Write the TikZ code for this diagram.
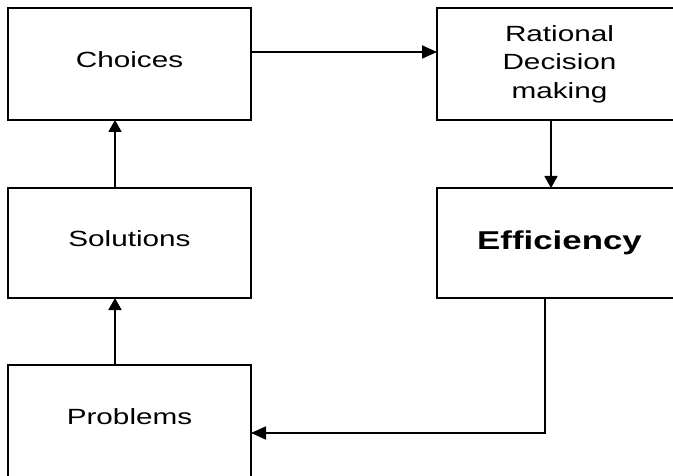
\documentclass[tikz,border=0pt]{standalone}
\usepackage{fontspec}
\newfontfamily\boxfont[FakeStretch=1.35]{Liberation Sans}
\usetikzlibrary{arrows.meta}
\begin{document}
\begin{tikzpicture}[x=1pt,y=-1pt,
  box/.style={draw=black, line width=1.5pt, rectangle, inner sep=0pt, outer sep=0pt,
    align=center, font=\boxfont\fontsize{22}{28.5}\selectfont},
  lowtext/.style={text height=16pt, text depth=9pt},
  conn/.style={draw=black, line width=1.8pt},
  harr/.style={conn, -{Triangle[length=15pt,width=13pt]}},
  varr/.style={conn, -{Triangle[length=12pt,width=13pt]}}]
\useasboundingbox (0,0) rectangle (673,476);
\clip (0,0) rectangle (673,476);
\fill[white] (0,0) rectangle (673,476);
\node[box, lowtext, minimum width=243pt, minimum height=112pt] (choices) at (129.5,64) {Choices};
\node[box, minimum width=245pt, minimum height=112pt] (rational) at (559.5,64) {Rational\\Decision\\making};
\node[box, lowtext, minimum width=243pt, minimum height=110pt] (solutions) at (129.5,243) {Solutions};
\node[box, minimum width=245pt, minimum height=110pt, font=\boxfont\fontsize{25.8}{28}\selectfont\bfseries] (efficiency) at (559.5,243) {Efficiency};
\node[box, lowtext, minimum width=243pt, minimum height=112pt] (problems) at (129.5,421) {Problems};
\draw[harr] ([yshift=12pt]choices.east) -- ([yshift=12pt]rational.west);
\draw[varr] ([xshift=-8.5pt]rational.south) -- ([xshift=-8.5pt]efficiency.north);
\draw[varr] ([xshift=-14.5pt]solutions.north) -- ([xshift=-14.5pt]choices.south);
\draw[varr] ([xshift=-14.5pt]problems.north) -- ([xshift=-14.5pt]solutions.south);
\draw[harr] ([xshift=-14.5pt]efficiency.south) |- ([yshift=-12pt]problems.east);
\end{tikzpicture}
\end{document}
